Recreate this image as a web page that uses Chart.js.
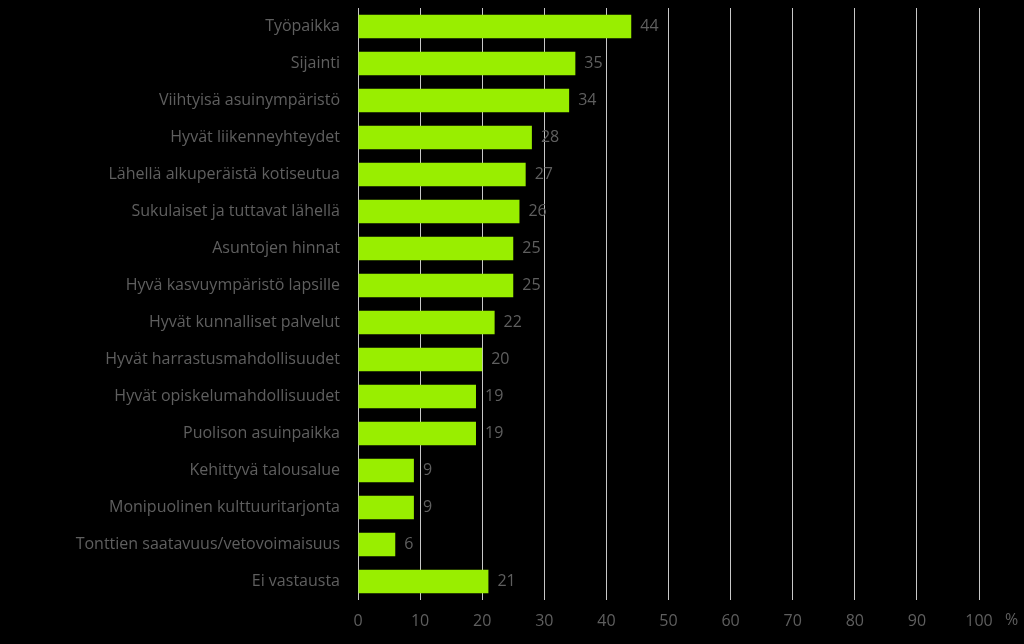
<!DOCTYPE html>
<html lang="fi">
  <head>
    <meta charset="UTF-8" />
    <title>Syyt asuinpaikan valintaan</title>
    <style>
      html, body { margin: 0; padding: 0; background: #000; }
      #wrap { width: 1024px; height: 644px; }
    </style>
  </head>
  <body>
    <div id="wrap"><canvas id="chart"></canvas></div>
    <script src="https://cdn.jsdelivr.net/npm/chart.js@4/dist/chart.umd.min.js"></script>
    <script>
      const categories = [
        "Työpaikka",
        "Sijainti",
        "Viihtyisä asuinympäristö",
        "Hyvät liikenneyhteydet",
        "Lähellä alkuperäistä kotiseutua",
        "Sukulaiset ja tuttavat lähellä",
        "Asuntojen hinnat",
        "Hyvä kasvuympäristö lapsille",
        "Hyvät kunnalliset palvelut",
        "Hyvät harrastusmahdollisuudet",
        "Hyvät opiskelumahdollisuudet",
        "Puolison asuinpaikka",
        "Kehittyvä talousalue",
        "Monipuolinen kulttuuritarjonta",
        "Tonttien saatavuus/vetovoimaisuus",
        "Ei vastausta",
      ];
      const percents = [44, 35, 34, 28, 27, 26, 25, 25, 22, 20, 19, 19, 9, 9, 6, 21];
      const xTicks = [0, 10, 20, 30, 40, 50, 60, 70, 80, 90, 100];

      const textColor = "#5f5f5f";
      const font = { family: "'Open Sans', sans-serif", size: 16 };

      // value labels at the end of each bar + the "%" unit after the axis
      const labelsPlugin = {
        id: "valueLabels",
        afterDatasetsDraw(chart) {
          const ctx = chart.ctx;
          const meta = chart.getDatasetMeta(0);
          ctx.save();
          ctx.fillStyle = textColor;
          ctx.font = "16px 'Open Sans', sans-serif";
          ctx.textAlign = "left";
          ctx.textBaseline = "middle";
          meta.data.forEach((bar, i) => {
            ctx.fillText(String(percents[i]), bar.x + 9, bar.y);
          });
          const xs = chart.scales.x;
          ctx.fillText("%", xs.getPixelForValue(100) + 26, xs.top + 20);
          ctx.restore();
        },
      };

      new Chart(document.getElementById("chart"), {
        type: "bar",
        data: {
          labels: categories,
          datasets: [
            {
              data: percents,
              backgroundColor: "#99ee00",
              borderWidth: 0,
              barPercentage: 0.63,
              categoryPercentage: 1,
            },
          ],
        },
        options: {
          indexAxis: "y",
          responsive: true,
          maintainAspectRatio: false,
          animation: false,
          layout: { padding: { top: 8, right: 45, left: 0, bottom: 0 } },
          plugins: { legend: { display: false }, tooltip: { enabled: false } },
          scales: {
            x: {
              min: 0,
              max: 100,
              afterBuildTicks(scale) {
                scale.ticks = xTicks.map((v) => ({ value: v }));
              },
              afterFit(scale) {
                scale.height = 44;
                scale.paddingLeft = 0;
                scale.paddingRight = 0;
              },
              grid: { color: "#c8c8c8", lineWidth: 1, drawTicks: false },
              border: { display: false },
              ticks: { color: textColor, font: font, padding: 12 },
            },
            y: {
              afterFit(scale) {
                scale.width = 358;
                scale.paddingTop = 0;
                scale.paddingBottom = 0;
              },
              grid: { display: false },
              border: { display: false },
              ticks: { color: textColor, font: font, padding: 10, autoSkip: false },
            },
          },
        },
        plugins: [labelsPlugin],
      });
    </script>
  </body>
</html>
